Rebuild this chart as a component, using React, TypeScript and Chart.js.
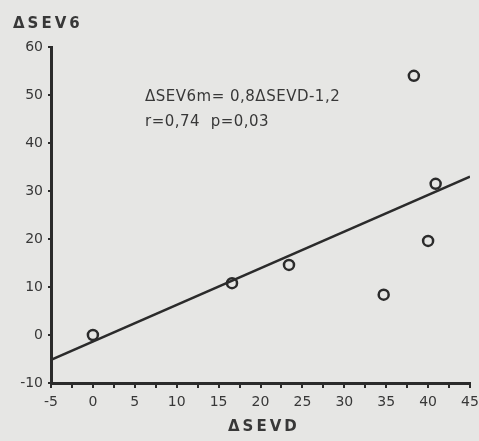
import React, { useEffect, useRef } from "react";
import { Chart, registerables } from "chart.js";

Chart.register(...registerables);

const pointsX = [0, 16.6, 23.4, 34.7, 38.3, 40, 40.9];
const pointsY = [0, 10.8, 14.6, 8.4, 54, 19.6, 31.5];
const lineX = [-5, 45];
const lineY = [-5.2, 33];
const xTitle = "ΔSEVD";
const yTitle = "ΔSEV6";
const annotation = ["ΔSEV6m= 0,8ΔSEVD-1,2", "r=0,74  p=0,03"];

const INK = "#2b2b2b";
const TXT = "#383838";
const BG = "#e6e6e4";
const FONT = "'DejaVu Sans', sans-serif";

export default function App() {
  const ref = useRef<HTMLCanvasElement | null>(null);
  useEffect(() => {
    document.body.style.margin = "0";
    const textPlugin = {
      id: "texts",
      beforeDraw(chart: any) {
        const ctx = chart.ctx;
        ctx.save();
        ctx.fillStyle = BG;
        ctx.fillRect(0, 0, chart.width, chart.height);
        ctx.restore();
      },
      afterDraw(chart: any) {
        const ctx = chart.ctx;
        ctx.save();
        ctx.fillStyle = TXT;
        ctx.textBaseline = "middle";
        ctx.font = `bold 15px ${FONT}`;
        (ctx as any).letterSpacing = "3px";
        ctx.textAlign = "left";
        ctx.fillText(yTitle, 13, 24);
        ctx.fillText(xTitle, 228, 427);
        (ctx as any).letterSpacing = "0.5px";
        ctx.font = `15px ${FONT}`;
        ctx.fillText(annotation[0], 145, 97);
        ctx.fillText(annotation[1], 145, 122);
        ctx.restore();
      },
    };
    const chart = new Chart(ref.current as HTMLCanvasElement, {
      type: "scatter",
      data: {
        datasets: [
          {
            type: "line",
            data: lineX.map((x, i) => ({ x, y: lineY[i] })),
            borderColor: INK,
            borderWidth: 2.5,
            pointRadius: 0,
            fill: false,
          } as any,
          {
            data: pointsX.map((x, i) => ({ x, y: pointsY[i] })),
            pointStyle: "circle",
            pointRadius: 5,
            borderColor: INK,
            borderWidth: 2.5,
            backgroundColor: "rgba(0,0,0,0)",
            clip: false,
          } as any,
        ],
      },
      options: {
        responsive: false,
        animation: false,
        layout: { padding: { top: 47, right: 9, left: 0, bottom: 0 } },
        plugins: { legend: { display: false }, tooltip: { enabled: false } },
        scales: {
          x: {
            type: "linear",
            min: -5,
            max: 45,
            afterFit: (s: any) => {
              s.height = 58;
              s.paddingLeft = 0;
              s.paddingRight = 0;
            },
            border: { color: INK, width: 3 },
            grid: { drawOnChartArea: false, color: INK, tickLength: 5, lineWidth: 2 },
            ticks: {
              stepSize: 2.5,
              autoSkip: false,
              maxRotation: 0,
              padding: 6,
              color: TXT,
              font: { family: FONT, size: 14 },
              callback: (v: any) => (Math.abs(v % 5) < 1e-6 ? String(v) : ""),
            },
          },
          y: {
            type: "linear",
            min: -10,
            max: 60,
            afterFit: (s: any) => {
              s.width = 51;
            },
            border: { color: INK, width: 3 },
            grid: { drawOnChartArea: false, color: INK, tickLength: 3, lineWidth: 2 },
            ticks: {
              stepSize: 10,
              padding: 5,
              color: TXT,
              font: { family: FONT, size: 14 },
            },
          },
        },
      },
      plugins: [textPlugin],
    });
    return () => chart.destroy();
  }, []);
  return (
    <div style={{ width: 479, height: 441, background: BG }}>
      <canvas ref={ref} width={479} height={441} style={{ display: "block" }} />
    </div>
  );
}
